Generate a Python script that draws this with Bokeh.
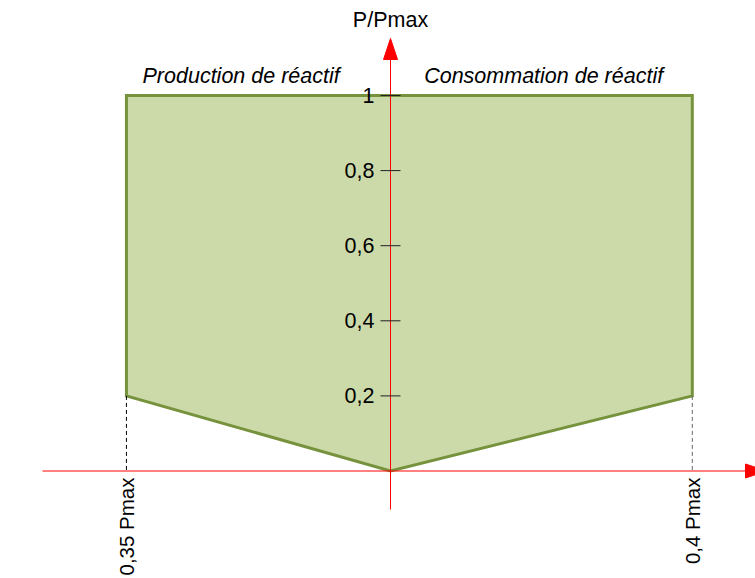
from bokeh.plotting import figure
from bokeh.embed import file_html
from bokeh.resources import INLINE
from bokeh.core.properties import value

# ---- data ----
region_q = [-0.35, -0.35, 0.4, 0.4, 0.0]      # Q/Pmax (horizontal)
region_p = [0.2, 1.0, 1.0, 0.2, 0.0]          # P/Pmax (vertical)
tick_values = [0.2, 0.4, 0.6, 0.8, 1.0]
tick_labels = ["0,2", "0,4", "0,6", "0,8", "1"]
limit_q = [-0.35, 0.4]
limit_p = [0.2, 0.2]
limit_labels = ["0,35 Pmax", "0,4 Pmax"]
zone_labels = ["Production de réactif", "Consommation de réactif"]
zone_q = [-0.198, 0.203]
zone_p = [1.053, 1.053]
y_title = "P/Pmax"

# ---- layout / scale ----
W, H = 755, 578
SX, SY = 754.5, 375.5          # pixels per data unit
OX, OY = 390.0, 470.5          # pixel position of origin in canvas (from left, from top)
x_rng = (-OX / SX, (W - OX) / SX)
y_rng = (-(H - OY) / SY, OY / SY)

def dx(px):
    return px / SX

def dy(px):
    return px / SY

FONT = value("Liberation Sans")
FS = "21.5px"

p = figure(width=W, height=H, x_range=x_rng, y_range=y_rng,
           output_backend="svg", toolbar_location=None,
           x_axis_location=None, y_axis_location=None, min_border=0)
p.grid.visible = False
p.outline_line_color = None
p.background_fill_color = "white"

# region polygon
p.patch(region_q, region_p, fill_color="#ccdaaa", line_color="#76923c",
        line_width=3, line_join="miter")

# dashed limit lines
p.segment(x0=limit_q, y0=limit_p, x1=limit_q, y1=[0, 0],
          line_color=["#000000", "#666666"], line_width=1, line_dash="4 3")

# axes (red) with arrow heads
x_axis_left, x_axis_right = dx(42 - 390), dx(745 - 390)
y_axis_bottom, y_axis_top = -dy(38.5), dy(411.5)
p.segment(x0=[x_axis_left, 0], y0=[0, y_axis_bottom],
          x1=[x_axis_right, 0], y1=[0, y_axis_top],
          line_color="#ff0000", line_width=1)
head_len, head_half = 21, 7
p.patch([x_axis_right, x_axis_right + dx(head_len), x_axis_right],
        [dy(head_half), 0, -dy(head_half)],
        fill_color="#ff0000", line_color="#ff0000", line_width=1)
p.patch([-dx(head_half), 0, dx(head_half)],
        [y_axis_top, y_axis_top + dy(head_len), y_axis_top],
        fill_color="#ff0000", line_color="#ff0000", line_width=1)

# ticks on vertical axis
p.segment(x0=[-dx(10)] * len(tick_values), x1=[dx(10)] * len(tick_values),
          y0=tick_values, y1=tick_values, line_color="#222222", line_width=1)
p.text(x=[-dx(16)] * len(tick_values), y=tick_values, text=tick_labels,
       text_font=FONT, text_font_size=FS, text_color="#000000",
       text_align="right", text_baseline="middle")

# axis title
p.text(x=[0], y=[dy(470.5 - 19)], text=[y_title], text_font=FONT,
       text_font_size=FS, text_color="#000000",
       text_align="center", text_baseline="middle")

# zone labels
p.text(x=zone_q, y=zone_p, text=zone_labels, text_font=FONT,
       text_font_size=FS, text_font_style="italic", text_color="#000000",
       text_align="center", text_baseline="middle")

# limit labels (rotated)
p.text(x=limit_q, y=[-dy(6.5)] * 2, text=limit_labels, text_font=FONT,
       text_font_size="20.5px", text_color="#000000", angle=1.5707963,
       text_align="right", text_baseline="middle")

open("out.html", "w").write(file_html(p, INLINE))
